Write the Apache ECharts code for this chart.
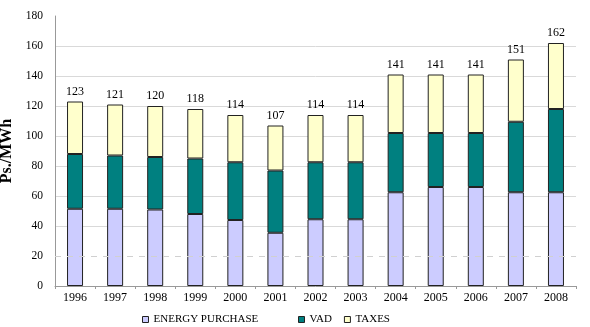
<!DOCTYPE html>
<html>
<head>
<meta charset="utf-8">
<script src="https://cdn.jsdelivr.net/npm/echarts@6/dist/echarts.min.js"></script>
<style>html,body{margin:0;padding:0;background:#fff}#c{width:590px;height:327px}</style>
</head>
<body>
<div id="c"></div>
<script>
const years = ['1996','1997','1998','1999','2000','2001','2002','2003','2004','2005','2006','2007','2008'];
const energy = [51.5, 51.5, 51, 48, 44, 35.5, 44.5, 44.5, 62.5, 66, 66, 62.5, 62.5];
const vad = [36.5, 35.5, 35, 37, 38.5, 41.5, 38, 38, 39.5, 36, 36, 47, 55.5];
const taxes = [35, 34, 34, 33, 31.5, 30, 31.5, 31.5, 39, 39, 39, 41.5, 44];
const yTicks = [0, 20, 40, 60, 80, 100, 120, 140, 160, 180];

const serif = '"Liberation Serif", "DejaVu Serif", serif';
const chart = echarts.init(document.getElementById('c'));
const border = { borderColor: '#222', borderWidth: 1 };
const legendText = { fontFamily: serif, fontSize: 11, color: '#000' };
const legendIcon = { borderColor: '#222', borderWidth: 1 };
chart.setOption({
  animation: false,
  textStyle: { fontFamily: serif },
  grid: { left: 55, right: 14, top: 16, bottom: 41, containLabel: false, outerBoundsMode: 'none' },
  legend: [
    { data: ['ENERGY PURCHASE'], left: 142, top: 314, padding: 0, icon: 'rect', itemWidth: 6, itemHeight: 6,
      itemStyle: legendIcon, textStyle: legendText },
    { data: ['VAD', 'TAXES'], left: 298, top: 314, padding: 0, icon: 'rect', itemWidth: 6, itemHeight: 6, itemGap: 12,
      itemStyle: legendIcon, textStyle: legendText }
  ],
  xAxis: {
    type: 'category', data: years,
    axisLine: { lineStyle: { color: '#999', width: 1 } },
    axisTick: { show: true, length: 3, lineStyle: { color: '#999' } },
    axisLabel: { fontFamily: serif, fontSize: 12, color: '#000', margin: 6 }
  },
  yAxis: {
    type: 'value', min: 0, max: 180, interval: 20,
    name: 'Ps./MWh', nameLocation: 'middle', nameGap: 30, nameRotate: 90,
    nameTextStyle: { fontFamily: serif, fontSize: 16, fontWeight: 'bold', color: '#000' },
    axisLine: { show: true, lineStyle: { color: '#999' } },
    axisTick: { show: false },
    axisLabel: { fontFamily: serif, fontSize: 11.5, color: '#000', margin: 12,
      formatter: v => yTicks.includes(v) ? String(v) : '' },
    splitLine: { show: true, lineStyle: { color: ['transparent', 'transparent', '#d9d9d9', '#d9d9d9', '#d9d9d9', '#d9d9d9', '#d9d9d9', '#d9d9d9', '#d9d9d9', 'transparent'] } }
  },
  series: [
    { name: 'ENERGY PURCHASE', type: 'bar', stack: 't', data: energy, barWidth: 16,
      itemStyle: Object.assign({ color: '#ccccff' }, border),
      markLine: { silent: true, symbol: 'none', label: { show: false },
        lineStyle: { color: '#d0d0d0', type: [6, 6], width: 1 },
        data: [{ yAxis: 20 }] } },
    { name: 'VAD', type: 'bar', stack: 't', data: vad, barWidth: 16,
      itemStyle: Object.assign({ color: '#008080' }, border) },
    { name: 'TAXES', type: 'bar', stack: 't', data: taxes, barWidth: 16,
      itemStyle: Object.assign({ color: '#ffffcc' }, border),
      label: { show: true, position: 'top', distance: 4, fontFamily: serif, fontSize: 12, color: '#000',
        formatter: p => String(Math.round(energy[p.dataIndex] + vad[p.dataIndex] + taxes[p.dataIndex])) } }
  ]
});
</script>
</body>
</html>
